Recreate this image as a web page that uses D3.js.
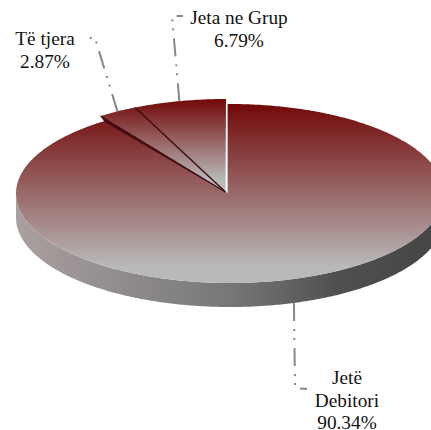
<!DOCTYPE html>
<html>
<head>
<meta charset="utf-8">
<script src="https://cdn.jsdelivr.net/npm/d3@7"></script>
<style>
  html, body { margin: 0; padding: 0; background: #fff; }
  svg { display: block; }
  text { font-family: "Liberation Serif", serif; font-size: 19.3px; fill: #111; }
</style>
</head>
<body>
<div id="chart"></div>
<script>
const categories = ['Jetë Debitori', 'Të tjera', 'Jeta ne Grup'];
const values = [90.34, 2.87, 6.79];
const labelLines = [['Jetë', 'Debitori', '90.34%'], ['Të tjera', '2.87%'], ['Jeta ne Grup', '6.79%']];

const w = 431, h = 430,
  rx = 214, ry = 89.5, depth = 24, // Ellipse of the pie, shared by all slices
  skew = 1.03, // Perspective stretches the angles a little
  mainC = [230, 193.5], mainApex = [227.6, 193],
  smallC = [226, 188.5], smallApex = [225.5, 192]; // The small slices are pulled out up and left

const svg = d3.select('#chart').append('svg').attr('width', w).attr('height', h);
const defs = svg.append('defs');

function vGrad(id, y1, y2) {
  const g = defs.append('linearGradient').attr('id', id)
    .attr('gradientUnits', 'userSpaceOnUse')
    .attr('x1', 0).attr('x2', 0).attr('y1', y1).attr('y2', y2);
  g.append('stop').attr('offset', 0).attr('stop-color', '#720808');
  g.append('stop').attr('offset', 1).attr('stop-color', '#b9b9b9');
}
vGrad('topMain', mainC[1] - ry, mainC[1] + ry - 16);
vGrad('topSmall', smallC[1] - ry, smallApex[1] - 12);

const side = defs.append('linearGradient').attr('id', 'side')
  .attr('gradientUnits', 'userSpaceOnUse')
  .attr('x1', mainC[0] - rx).attr('x2', mainC[0] + rx).attr('y1', 0).attr('y2', 0);
side.append('stop').attr('offset', 0).attr('stop-color', '#aaa0a0');
side.append('stop').attr('offset', 0.5).attr('stop-color', '#777');
side.append('stop').attr('offset', 0.75).attr('stop-color', '#505050');
side.append('stop').attr('offset', 1).attr('stop-color', '#444');

const arcs = d3.pie().sort(null).value(d => d)(values);
const line = d3.line();
const pt = (c, t, dy = 0) => [c[0] + rx * Math.sin(t), c[1] + dy - ry * Math.cos(t)];
// Angle of a slice border, measured from twelve o'clock and stretched by the perspective
const border = a => 2 * Math.PI - (2 * Math.PI - a) * skew;
const sweep = (t0, t1) => d3.range(t0, t1, 0.01).concat(t1);

// Side wall: the part of the rim facing the viewer
const wall = sweep(Math.PI / 2, 3 * Math.PI / 2);
svg.append('path')
  .attr('d', line(wall.map(t => pt(mainC, t)).concat(wall.map(t => pt(mainC, t, depth)).reverse())) + 'Z')
  .attr('fill', 'url(#side)');

// Leader lines, from the rim of each slice to its label
const leaderEnds = [[[295, 388], [307, 389]], [[95, 38], [85, 38]], [[172, 16], [183, 16]]];
arcs.forEach((d, i) => {
  const mid = (d.startAngle + d.endAngle) / 2;
  const start = i === 0 ? pt(mainC, mid, depth) : pt(smallC, border(mid));
  svg.append('path')
    .attr('d', line([start].concat(leaderEnds[i])))
    .attr('fill', 'none')
    .attr('stroke', '#888')
    .attr('stroke-width', 2)
    .attr('stroke-dasharray', '18 8 2 7 2 8');
});

// Main slice, its straight edge stays vertical next to the white gap
const cut = border(arcs[0].endAngle);
const mainStart = Math.asin((mainApex[0] - mainC[0]) / rx);
svg.append('path')
  .attr('d', line([mainApex].concat(sweep(mainStart, cut).map(t => pt(mainC, t)))) + 'Z')
  .attr('fill', 'url(#topMain)');

// Small slices with their dark edges
arcs.slice(1).forEach(d => {
  const t0 = border(d.startAngle), t1 = border(d.endAngle);
  svg.append('path')
    .attr('d', line([smallApex].concat(sweep(t0, t1).map(t => pt(smallC, t)))) + 'Z')
    .attr('fill', 'url(#topSmall)');
});
svg.append('path')
  .attr('d', line([smallApex, pt(smallC, border(arcs[2].startAngle))]))
  .attr('stroke', '#3d0a10')
  .attr('stroke-width', 1.4);

// Dark cut along the left edge of the small slices
svg.append('path')
  .attr('d', line([smallApex, pt(smallC, cut), pt(mainC, cut, 0.5)]) + 'Z')
  .attr('fill', '#4a0a10')
  .attr('stroke', '#3d0a10')
  .attr('stroke-width', 1);

// Labels
const labelPos = [[347, 384], [45, 45], [239, 24]];
labelLines.forEach((lines, i) => {
  const t = svg.append('text').attr('text-anchor', 'middle')
    .attr('y', labelPos[i][1]);
  lines.forEach((s, j) => {
    t.append('tspan').attr('x', labelPos[i][0]).attr('dy', j ? 22.5 : 0).text(s);
  });
});
</script>
</body>
</html>
